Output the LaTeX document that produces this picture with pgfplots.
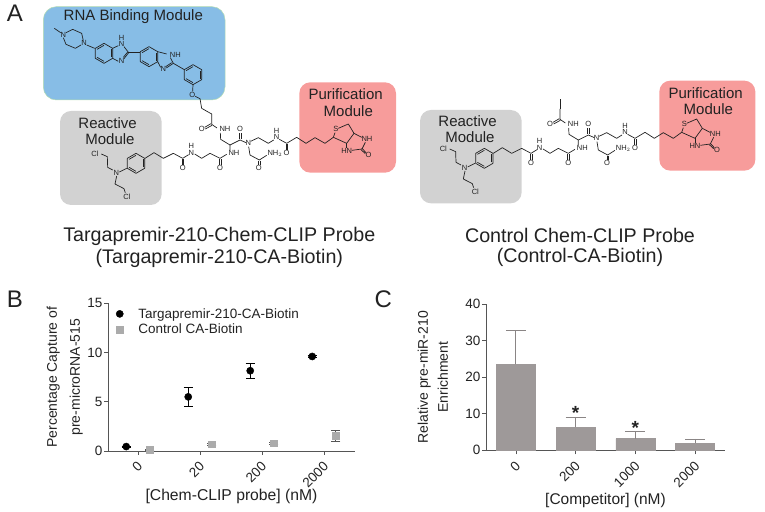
\documentclass[border=0pt]{standalone}
\usepackage{fontspec}
\setmainfont{Liberation Sans}
\usepackage{pgfplots}
\pgfplotsset{compat=1.18}
\definecolor{ink}{HTML}{222222}
\definecolor{axisgray}{HTML}{555555}
\definecolor{blueMod}{HTML}{87BDE6}
\definecolor{blueEdge}{HTML}{B5DDB0}
\definecolor{pinkMod}{HTML}{F79C9B}
\definecolor{grayMod}{HTML}{D2D2D2}
\definecolor{barfill}{HTML}{9E9999}
\definecolor{barerr}{HTML}{8A8585}
\definecolor{ctrl}{HTML}{ABABAB}

\pgfplotstableread{
x   y     err
-0.19 0.45 0.05
0.81  5.5  0.97
1.81  8.15 0.8
2.81  9.6  0.1
}\probe
\pgfplotstableread{
x   y     err
0.19 0.1  0.05
1.19 0.7  0.1
2.19 0.8  0.1
3.19 1.55 0.55
}\control
\pgfplotstableread{
x y    err
0 23.5 9.2
1 6.3  2.7
2 3.2  1.9
3 1.9  1.2
}\competitor

% px coordinates of the zoomed reference (3x), y down
\tikzset{bond/.style={draw=ink,line width=0.7pt,line join=round},
  atom/.style={font=\fontsize{7.5}{8}\selectfont,text=ink,inner sep=0pt}}
\newcommand\benz[2]{%
  \draw[bond] (#1,#2)++(90:30) -- ++(-30:30) -- ++(-90:30) -- ++(-150:30) -- ++(150:30) -- ++(90:30) -- cycle;
  \draw[bond] (#1,#2)++(30:24) -- ++(-90:24);
  \draw[bond] (#1,#2)++(150:24) -- ++(30:24);
  \draw[bond] (#1,#2)++(-90:24) -- ++(150:24);
}
% reactive end, linker and biotin, the same in both probes
\newcommand\commonpart{%
  \benz{408}{490}
  \draw[bond] (380,505) -- (358,516);
  \draw[bond] (338,510) -- (323,502) -- (322,470) -- (304,462);
  \draw[bond] (350,528) -- (345,552) -- (372,566) -- (376,578);
  \node[atom] at (349,518) {N};
  \node[atom] at (285,460) {Cl};
  \node[atom] at (381,591) {Cl};
  \draw[bond] (435,475) -- (462,458) -- (490,475) -- (520,460) -- (548,475) -- (566,464);
  \draw[bond] (546,477) -- (546,496) (551,477) -- (551,496);
  \node[atom] at (548,505) {O};
  \node[atom] at (574,438) {H};
  \node[atom] at (574,458) {N};
  \draw[bond] (584,462) -- (605,475) -- (630,460) -- (660,475) -- (680,463);
  \draw[bond] (658,477) -- (658,496) (663,477) -- (663,496);
  \node[atom] at (660,505) {O};
  \node[atom] at (702,460) {NH};
  \draw[bond] (690,450) -- (690,435) -- (720,420) -- (738,428);
  \draw[bond] (718,418) -- (718,398) (723,418) -- (723,398);
  \node[atom] at (720,387) {O};
  \node[atom] at (745,430) {N};
  \draw[bond] (690,435) -- (662,418) -- (661,399);
  \node[atom] at (675,388) {NH};
  \draw[bond] (651,384) -- (635,373) -- (635,342);
  \draw[bond] (633,371) -- (614,382) (636,376) -- (616,387);
  \node[atom] at (605,387) {O};
  \draw[bond] (746,440) -- (750,465) -- (778,480) -- (800,466);
  \draw[bond] (776,482) -- (776,496) (781,482) -- (781,496);
  \node[atom] at (776,505) {O};
  \node[atom,anchor=west] at (802,459) {NH$_2$};
  \draw[bond] (752,424) -- (775,413) -- (805,430) -- (821,420);
  \node[atom] at (830,392) {H};
  \node[atom] at (830,412) {N};
  \draw[bond] (838,418) -- (860,430) -- (890,412) -- (918,430) -- (945,413) -- (975,430) -- (1000,412);
  \draw[bond] (858,432) -- (858,450) (863,432) -- (863,450);
  \node[atom] at (860,460) {O};
  \draw[bond] (1000,412) -- (1005,398);
  \node[atom] at (1008,388) {S};
  \draw[bond] (1015,385) -- (1045,372) -- (1062,400) -- (1040,430) -- (1000,412);
  \draw[bond] (1062,400) -- (1085,412);
  \node[atom] at (1101,417) {NH};
  \draw[bond] (1096,427) -- (1086,447);
  \node[atom] at (1040,452) {HN};
  \draw[bond] (1040,430) -- (1040,443);
  \draw[bond] (1056,451) -- (1086,447);
  \draw[bond] (1086,445) -- (1098,458) (1083,449) -- (1096,461);
  \node[atom] at (1106,466) {O};
}

\begin{document}
\begin{tikzpicture}[x=1pt,y=1pt]
\path[use as bounding box] (0,0) rectangle (765,511);

\begin{scope}[shift={(0,511)},x=0.33333pt,y=-0.33333pt]
  % module boxes
  \fill[grayMod,rounded corners=11pt] (180,333) rectangle (485,615);
  \filldraw[fill=blueMod,draw=blueEdge,line width=0.5pt,rounded corners=13pt] (130,20) rectangle (675,300);
  \fill[pinkMod,rounded corners=11pt] (898,247) rectangle (1188,518);
  \fill[grayMod,rounded corners=11pt] (1260,330) rectangle (1565,610);
  \fill[pinkMod,rounded corners=11pt] (1978,242) rectangle (2266,512);

  \begin{scope}[every node/.append style={font=\fontsize{15}{15}\selectfont,text=ink}]
    \node at (400,50) {RNA Binding Module};
    \node at (323,370) {Reactive};
    \node at (330,418) {Module};
    \node at (1037,283) {Purification};
    \node at (1045,332) {Module};
    \node at (1403,363) {Reactive};
    \node at (1410,412) {Module};
    \node at (2117,278) {Purification};
    \node at (2125,328) {Module};
  \end{scope}

  % left probe
  \commonpart
  \draw[bond] (163,85) -- (182,98);
  \node[atom] at (190,104) {N};
  \draw[bond] (198,98) -- (218,88) -- (245,100) -- (250,122);
  \draw[bond] (190,113) -- (198,133) -- (226,145) -- (243,135);
  \node[atom] at (252,130) {N};
  \draw[bond] (260,135) -- (284,145);
  \benz{312}{160}
  \draw[bond] (338,145) -- (355,137);
  \node[atom] at (365,113) {H};
  \node[atom] at (365,133) {N};
  \draw[bond] (372,140) -- (386,158) -- (372,176);
  \draw[bond] (383,156) -- (370,172);
  \node[atom] at (365,184) {N};
  \draw[bond] (355,184) -- (338,175);
  \draw[bond] (386,158) -- (420,158);
  \benz{447}{170}
  \draw[bond] (473,155) -- (500,162);
  \node[atom] at (526,165) {NH};
  \draw[bond] (511,173) -- (520,190) -- (499,204);
  \draw[bond] (515,188) -- (497,200);
  \node[atom] at (490,208) {N};
  \draw[bond] (482,202) -- (473,185);
  \draw[bond] (520,190) -- (553,209);
  \benz{579}{224}
  \draw[bond] (579,254) -- (578,274);
  \node[atom] at (577,285) {O};
  \draw[bond] (586,289) -- (600,296) -- (605,325) -- (635,342);

  % control probe
  \begin{scope}[shift={(1045,-15)}]
    \commonpart
    \draw[bond] (635,342) -- (635,312);
  \end{scope}

  % panel texts
  \begin{scope}[every node/.append style={font=\fontsize{19.7}{20}\selectfont,text=ink}]
    \node at (658,708) {Targapremir-210-Chem-CLIP Probe};
    \node at (658,775) {(Targapremir-210-CA-Biotin)};
    \node at (1740,705) {Control Chem-CLIP Probe};
    \node at (1740,771) {(Control-CA-Biotin)};
  \end{scope}
  \begin{scope}[every node/.append style={font=\fontsize{24}{24}\selectfont,text=ink}]
    \node at (45,40) {A};
    \node at (45,897) {B};
    \node at (1150,897) {C};
  \end{scope}
\end{scope}

\begin{axis}[
    at={(108pt,60pt)}, anchor=south west,
    scale only axis, width=247pt, height=147.7pt,
    axis lines=left, axis line style={-,draw=axisgray,line width=0.7pt},
    clip=false,
    xmin=-0.484, xmax=3.5, ymin=0, ymax=15,
    xtick={0,1,2,3}, xticklabels={0,20,200,2000},
    ytick={0,5,10,15},
    tick align=outside, major tick length=4pt,
    tick style={draw=axisgray,line width=0.7pt},
    tick label style={font=\fontsize{13.5}{14}\selectfont,text=ink,/pgf/number format/assume math mode=true},
    x tick label style={rotate=45,anchor=north east,inner sep=1pt,yshift=-2pt,xshift=-4pt},
    y tick label style={inner xsep=1.5pt},
    x label style={font=\fontsize{15.7}{18}\selectfont,text=ink},
    y label style={font=\fontsize{14}{23}\selectfont,text=ink,align=center},
    xlabel={[Chem-CLIP probe] (nM)},
    xlabel style={at={(axis description cs:0.5,-0.311)},anchor=center},
    ylabel={Percentage Capture of\\pre-microRNA-515},
    ylabel style={at={(axis description cs:-0.175,0.5)},anchor=center},
    legend style={draw=none,fill=none,at={(0.02,0.995)},anchor=north west,font=\fontsize{13.5}{14}\selectfont,text=ink,row sep=0.5pt,cells={anchor=west}},
]
\addplot[only marks,mark=*,mark size=3.6pt,mark options={fill=black,draw=black},
    error bars/.cd,y dir=both,y explicit,error mark options={mark size=4.5pt,line width=0.7pt,rotate=90},
    error bar style={black,line width=0.7pt}]
    table[x=x,y=y,y error=err] {\probe};
\addlegendentry{\hspace{13pt}Targapremir-210-CA-Biotin}
\addplot[only marks,mark=square*,mark size=3.4pt,mark options={fill=ctrl,draw=ctrl},
    error bars/.cd,y dir=both,y explicit,error mark options={mark size=4.5pt,line width=0.7pt,rotate=90},
    error bar style={axisgray,line width=0.7pt}]
    table[x=x,y=y,y error=err] {\control};
\addlegendentry{\hspace{13pt}Control CA-Biotin}
\end{axis}

\begin{axis}[
    at={(486pt,60.7pt)}, anchor=south west,
    scale only axis, width=239pt, height=146.3pt,
    axis lines=left, axis line style={-,draw=axisgray,line width=0.7pt},
    clip=false,
    xmin=-0.5, xmax=3.5, ymin=0, ymax=40,
    xtick={0,1,2,3}, xticklabels={0,200,1000,2000},
    ytick={0,10,20,30,40},
    tick align=outside, major tick length=4pt,
    tick style={draw=axisgray,line width=0.7pt},
    tick label style={font=\fontsize{13.5}{14}\selectfont,text=ink,/pgf/number format/assume math mode=true},
    x tick label style={rotate=45,anchor=north east,inner sep=1pt,yshift=-2pt,xshift=-4pt},
    y tick label style={inner xsep=1.5pt},
    x label style={font=\fontsize{15.5}{18}\selectfont,text=ink},
    y label style={font=\fontsize{14}{20}\selectfont,text=ink,align=center},
    xlabel={[Competitor] (nM)},
    xlabel style={at={(axis description cs:0.5,-0.34)},anchor=center},
    ylabel={Relative pre-miR-210\\Enrichment},
    ylabel style={at={(axis description cs:-0.222,0.5)},anchor=center},
]
\addplot[ybar,bar shift=0pt,bar width=39pt,fill=barfill,draw=barfill,
    error bars/.cd,y dir=plus,y explicit,error mark options={mark size=10pt,line width=0.8pt,rotate=90,draw=barerr},
    error bar style={barerr,line width=0.8pt}]
    table[x=x,y=y,y error=err] {\competitor};
\node[font=\bfseries\fontsize{19}{19}\selectfont,text=ink] at (axis cs:1,10.1) {*};
\node[font=\bfseries\fontsize{19}{19}\selectfont,text=ink] at (axis cs:2,6.1) {*};
\end{axis}
\end{tikzpicture}
\end{document}
